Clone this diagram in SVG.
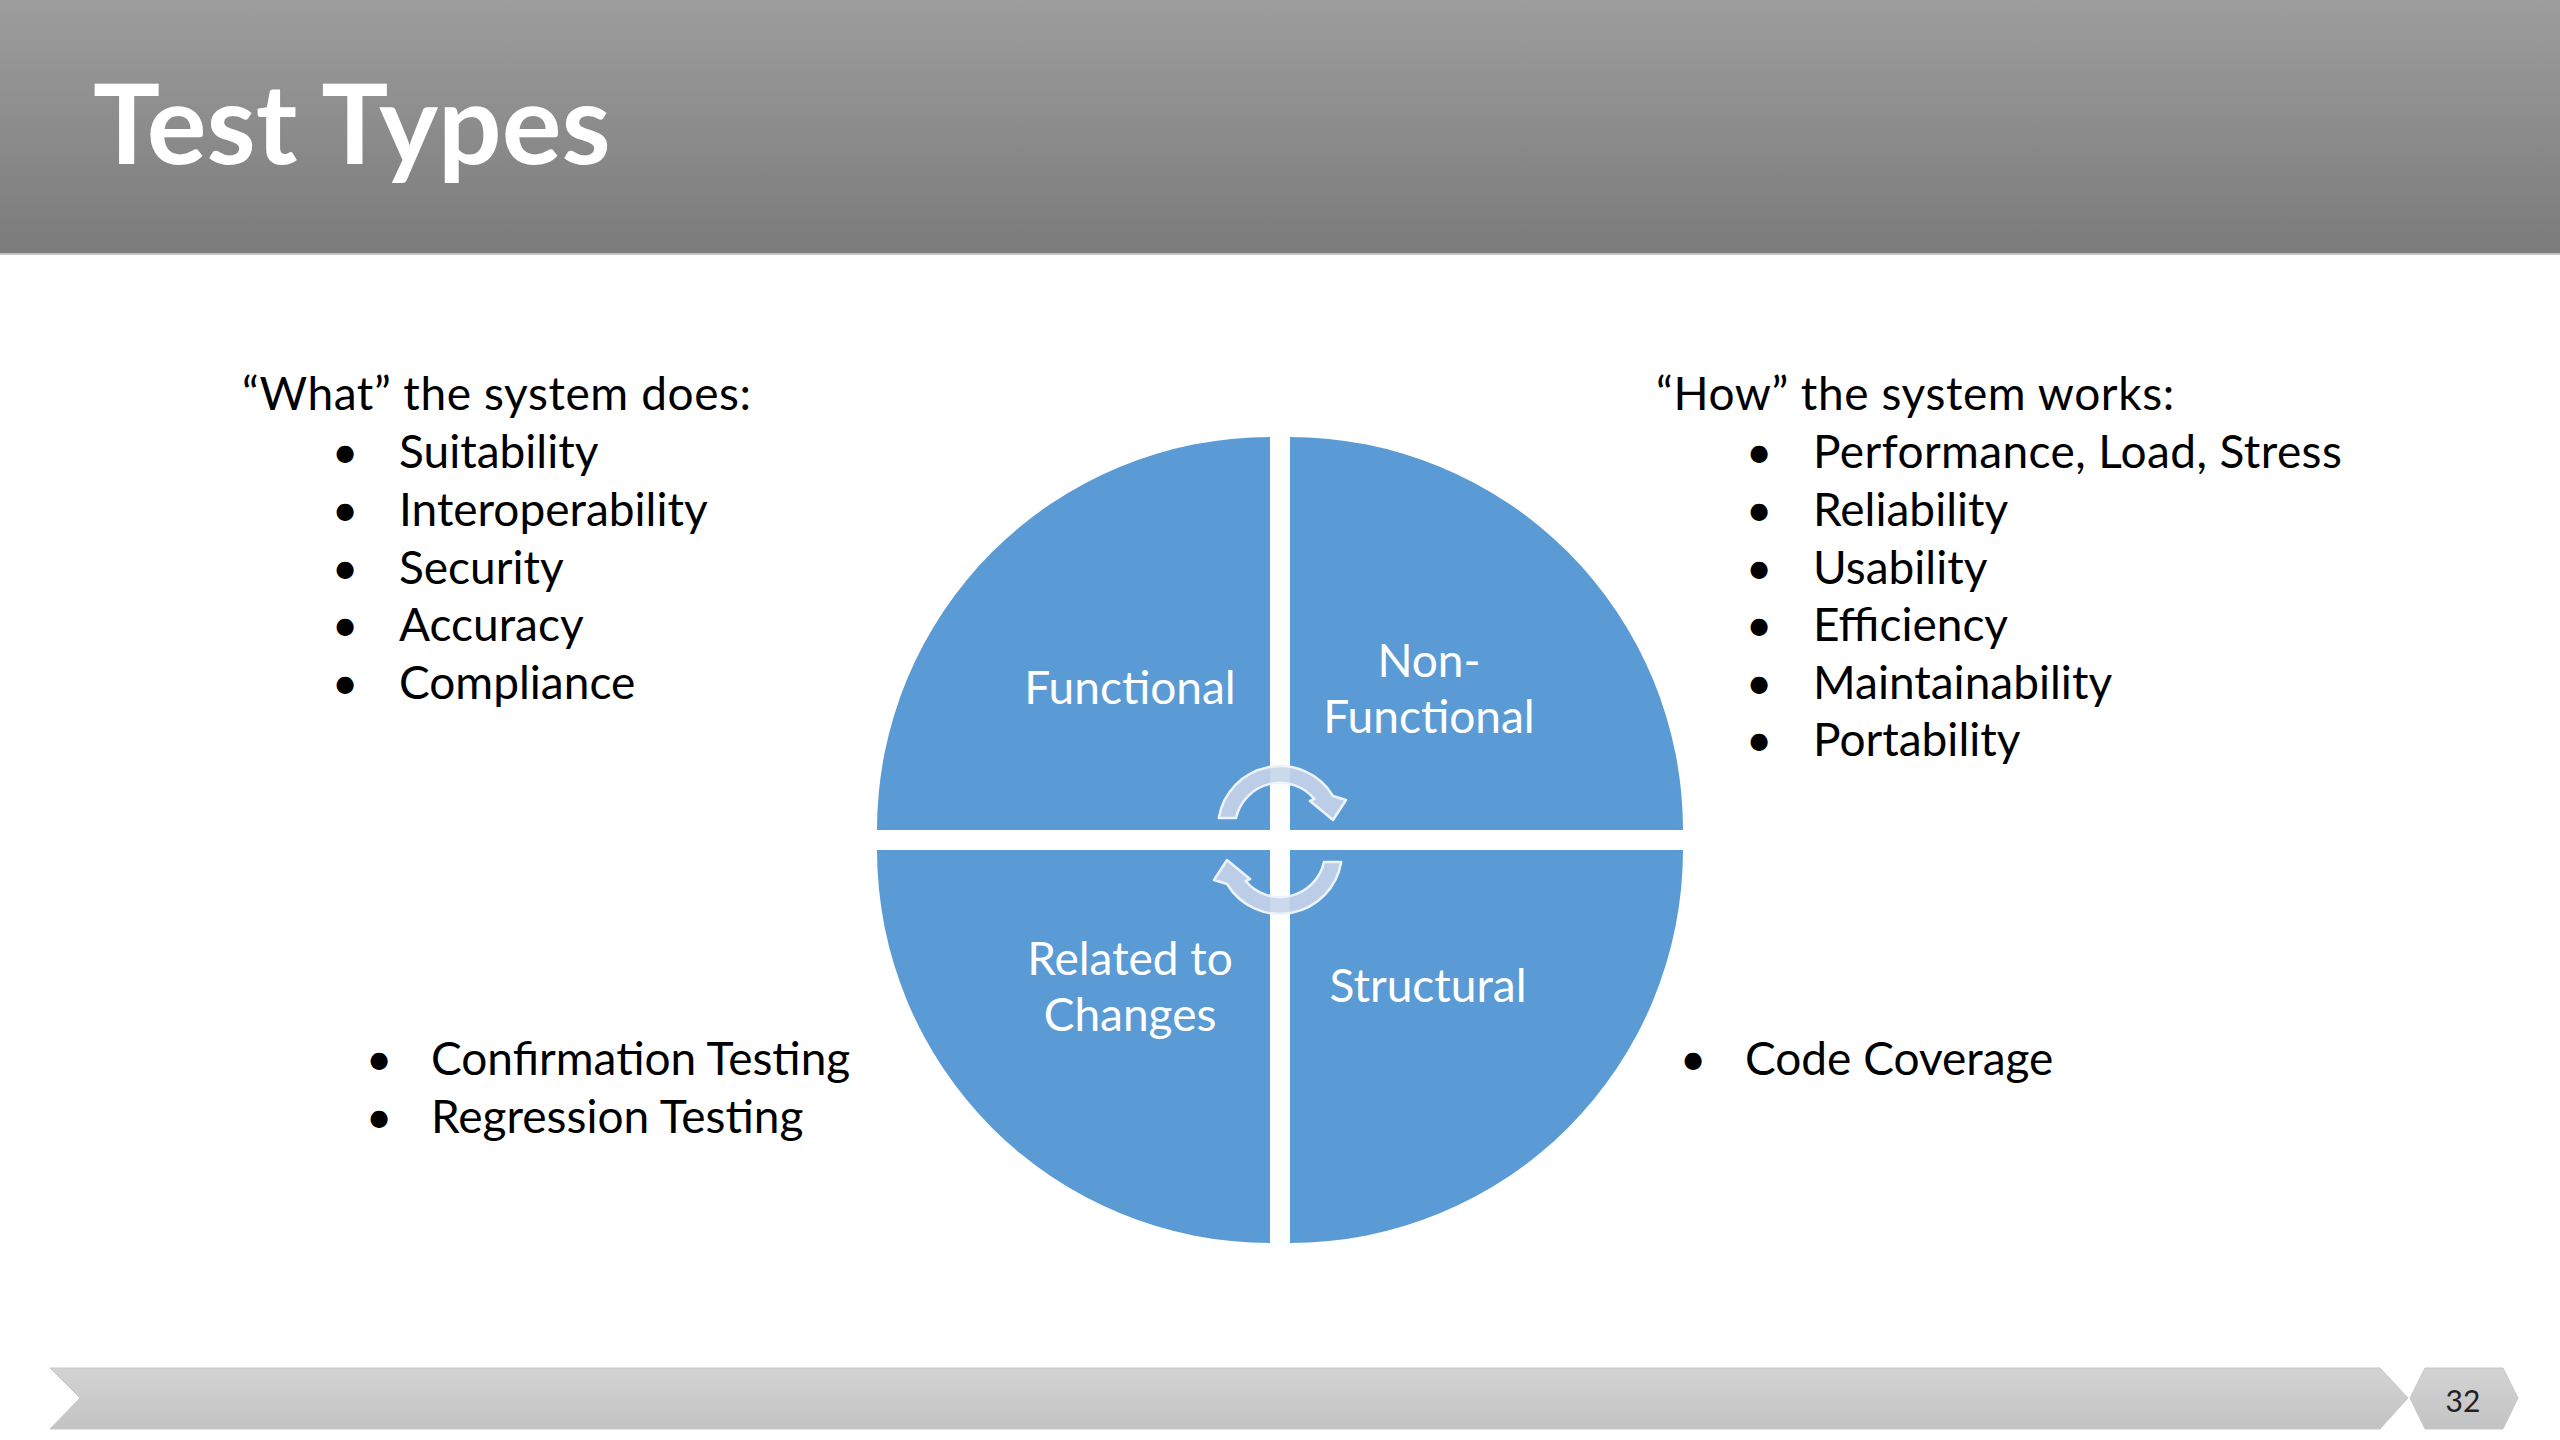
<svg xmlns="http://www.w3.org/2000/svg" width="2560" height="1440" viewBox="0 0 2560 1440">
<defs>
<linearGradient id="hdr" x1="0" y1="0" x2="0" y2="1">
<stop offset="0" stop-color="#9D9D9D"/>
<stop offset="1" stop-color="#7B7B7B"/>
</linearGradient>
<linearGradient id="ftr" x1="0" y1="0" x2="0" y2="1">
<stop offset="0" stop-color="#D3D3D3"/>
<stop offset="1" stop-color="#C3C3C3"/>
</linearGradient>
</defs>
<style>
.t{font-family:Lato,"Noto Sans","Liberation Sans",sans-serif;fill:#000;font-size:46px}
.h{letter-spacing:0.6px}
.q{font-family:Lato,"Noto Sans","Liberation Sans",sans-serif;fill:#fff;font-size:46px;text-anchor:middle}
.b{text-anchor:middle}
.quad{fill:#5B9BD5}
.arr{fill:#C6D4E9;fill-opacity:0.9;stroke:#EEF3FA;stroke-width:2.5;stroke-linejoin:round}
.bar{fill:url(#ftr);stroke:#C8C8C8;stroke-width:1}
</style>
<rect width="2560" height="1440" fill="#fff"/>
<g id="header">
<rect x="0" y="0" width="2560" height="253" fill="url(#hdr)"/>
<rect x="0" y="253" width="2560" height="2" fill="#C4C4C4"/>
<text x="93" y="164" font-family="Lato,'Noto Sans','Liberation Sans',sans-serif" font-weight="bold" font-size="112" fill="#fff">Test Types</text>
</g>
<g id="quadrant-functional">
<path class="quad" d="M1270,830 L877,830 A393,393 0 0 1 1270,437 Z"/>
<text class="q" x="1130" y="704">Functional</text>
</g>
<g id="quadrant-nonfunctional">
<path class="quad" d="M1290,830 L1290,437 A393,393 0 0 1 1683,830 Z"/>
<text class="q" x="1429" y="677">Non-</text>
<text class="q" x="1429" y="733">Functional</text>
</g>
<g id="quadrant-changes">
<path class="quad" d="M1270,850 L1270,1243 A393,393 0 0 1 877,850 Z"/>
<text class="q" x="1130" y="975">Related to</text>
<text class="q" x="1130" y="1031">Changes</text>
</g>
<g id="quadrant-structural">
<path class="quad" d="M1290,850 L1683,850 A393,393 0 0 1 1290,1243 Z"/>
<text class="q" x="1428" y="1002">Structural</text>
</g>
<g id="connectors">
<path id="arrow-top" class="arr" d="M1218.8,818 A62,62 0 0 1 1333,796 L1346,800 L1333,820 L1310,801 L1314.4,799 A45,45 0 0 0 1236,818 Z"/>
<path id="arrow-bottom" class="arr" transform="rotate(180 1280 840)" d="M1218.8,818 A62,62 0 0 1 1333,796 L1346,800 L1333,820 L1310,801 L1314.4,799 A45,45 0 0 0 1236,818 Z"/>
</g>
<g id="list-what">
<text class="t h" x="242" y="410">“What” the system does:</text>
<text class="t b" x="345" y="468">•</text><text class="t" x="399" y="468">Suitability</text>
<text class="t b" x="345" y="526">•</text><text class="t" x="399" y="526">Interoperability</text>
<text class="t b" x="345" y="584">•</text><text class="t" x="399" y="584">Security</text>
<text class="t b" x="345" y="641">•</text><text class="t" x="399" y="641">Accuracy</text>
<text class="t b" x="345" y="699">•</text><text class="t" x="399" y="699">Compliance</text>
</g>
<g id="list-how">
<text class="t h" x="1656" y="410">“How” the system works:</text>
<text class="t b" x="1759" y="468">•</text><text class="t" x="1813" y="468" letter-spacing="0.4">Performance, Load, Stress</text>
<text class="t b" x="1759" y="526">•</text><text class="t" x="1813" y="526">Reliability</text>
<text class="t b" x="1759" y="584">•</text><text class="t" x="1813" y="584">Usability</text>
<text class="t b" x="1759" y="641">•</text><text class="t" x="1813" y="641">Efficiency</text>
<text class="t b" x="1759" y="699">•</text><text class="t" x="1813" y="699">Maintainability</text>
<text class="t b" x="1759" y="756">•</text><text class="t" x="1813" y="756">Portability</text>
</g>
<g id="list-changes">
<text class="t b" x="379" y="1075">•</text><text class="t" x="431" y="1075">Confirmation Testing</text>
<text class="t b" x="379" y="1133">•</text><text class="t" x="431" y="1133">Regression Testing</text>
</g>
<g id="list-structural">
<text class="t b" x="1693" y="1075">•</text><text class="t" x="1745" y="1075">Code Coverage</text>
</g>
<g id="footer">
<polygon class="bar" points="50,1368 2380,1368 2408,1398 2380,1429 50,1429 80,1398"/>
<polygon class="bar" points="2410,1398 2425,1368 2503,1368 2518,1398 2503,1429 2425,1429"/>
<text x="2463" y="1412" font-family="Lato,'Noto Sans','Liberation Sans',sans-serif" font-size="30" fill="#222" text-anchor="middle">32</text>
</g>
</svg>
